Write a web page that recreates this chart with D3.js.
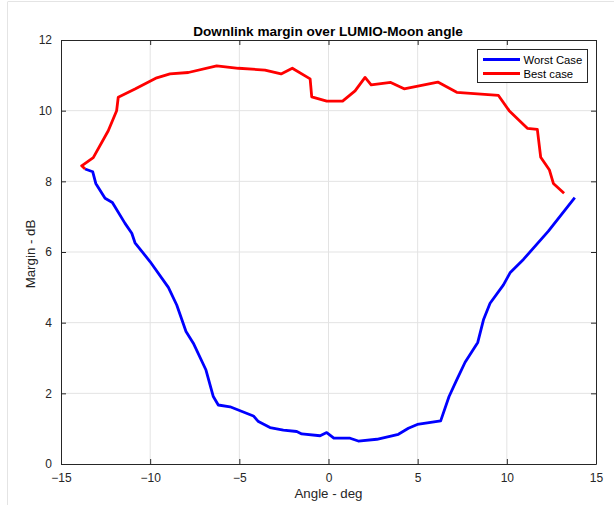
<!DOCTYPE html>
<html>
<head>
<meta charset="utf-8">
<script src="https://cdn.jsdelivr.net/npm/d3@7"></script>
<style>
  html, body { margin: 0; padding: 0; background: #fff; }
  svg { display: block; font-family: "Liberation Sans", Arial, Helvetica, sans-serif; }
</style>
</head>
<body>
<svg id="chart" width="614" height="505"></svg>
<script>
// ---- data ----
const title = "Downlink margin over LUMIO-Moon angle";
const xLabel = "Angle - deg";
const yLabel = "Margin - dB";
const xTicks = [-15, -10, -5, 0, 5, 10, 15];
const yTicks = [0, 2, 4, 6, 8, 10, 12];
const seriesNames = ["Worst Case", "Best case"];

const worstAngle = [-13.65, -13.22, -13.05, -12.53, -12.12, -11.41, -11.03, -10.85, -10.01, -8.98, -8.51, -7.99, -7.58, -6.87, -6.46, -6.18, -5.52, -4.21, -3.93, -3.28, -2.53, -1.78, -1.5, -0.47, -0.1, 0.3, 1.21, 1.67, 2.71, 3.92, 4.48, 4.98, 6.29, 6.76, 7.19, 7.66, 8.37, 8.69, 9.06, 9.81, 10.18, 10.93, 12.33, 13.81];
const worstMargin = [8.35, 8.27, 7.94, 7.52, 7.4, 6.81, 6.53, 6.26, 5.73, 5.0, 4.5, 3.75, 3.42, 2.66, 1.91, 1.67, 1.62, 1.36, 1.2, 1.03, 0.96, 0.92, 0.85, 0.8, 0.89, 0.73, 0.73, 0.65, 0.7, 0.84, 1.01, 1.12, 1.22, 1.91, 2.38, 2.88, 3.44, 4.08, 4.55, 5.07, 5.41, 5.79, 6.59, 7.54];

const bestAngle = [-13.65, -13.84, -13.19, -12.35, -11.88, -11.79, -10.85, -9.63, -8.89, -7.86, -6.27, -5.05, -3.56, -2.66, -2.03, -1.03, -0.94, -0.1, 0.79, 1.49, 2.05, 2.39, 3.49, 4.24, 6.13, 7.19, 9.53, 10.13, 11.15, 11.71, 11.9, 12.39, 12.61, 13.21];
const bestMargin = [8.35, 8.44, 8.67, 9.43, 10.0, 10.38, 10.61, 10.93, 11.04, 11.08, 11.27, 11.2, 11.15, 11.04, 11.2, 10.9, 10.39, 10.27, 10.27, 10.56, 10.94, 10.73, 10.8, 10.62, 10.81, 10.52, 10.43, 10.0, 9.5, 9.47, 8.68, 8.32, 7.94, 7.66];

const colors = ["#0000ff", "#ff0000"];

// ---- layout ----
const svg = d3.select("#chart");
const L = 61, R = 596, T = 40, B = 464;
const axisColor = "#262626";

const x = d3.scaleLinear().domain([-15, 15]).range([L, R]);
const y = d3.scaleLinear().domain([0, 12]).range([B, T]);

// faint window edges
svg.append("line").attr("x1", 7.5).attr("x2", 7.5).attr("y1", 2).attr("y2", 505)
  .attr("stroke", "#e4e4e4").attr("stroke-width", 1);
svg.append("line").attr("x1", 7.5).attr("x2", 614).attr("y1", 1.5).attr("y2", 1.5)
  .attr("stroke", "#e4e4e4").attr("stroke-width", 1);

// grid
const grid = svg.append("g");
grid.selectAll("line.gx").data(xTicks.slice(1, -1)).join("line")
  .attr("x1", d => x(d)).attr("x2", d => x(d)).attr("y1", T).attr("y2", B)
  .attr("stroke", "#e3e3e3").attr("stroke-width", 1);
grid.selectAll("line.gy").data(yTicks.slice(1, -1)).join("line")
  .attr("x1", L).attr("x2", R).attr("y1", d => y(d)).attr("y2", d => y(d))
  .attr("stroke", "#e3e3e3").attr("stroke-width", 1);

// axes
const fmt = d3.format("d");
const xAxis = d3.axisBottom(x).tickValues(xTicks).tickFormat(fmt).tickSizeInner(-5).tickSizeOuter(0).tickPadding(9);
const yAxis = d3.axisLeft(y).tickValues(yTicks).tickFormat(fmt).tickSizeInner(-5).tickSizeOuter(0).tickPadding(9);
const xTop = d3.axisTop(x).tickValues(xTicks).tickFormat("").tickSizeInner(-5).tickSizeOuter(0);
const yRight = d3.axisRight(y).tickValues(yTicks).tickFormat("").tickSizeInner(-5).tickSizeOuter(0);

function styleAxis(g) {
  g.selectAll("path").attr("stroke", axisColor).attr("stroke-width", 1);
  g.selectAll("line").attr("stroke", axisColor).attr("stroke-width", 1);
  g.selectAll("text").attr("fill", "#262626").style("font-size", "12px")
    .style("font-family", "'Liberation Sans', Arial, sans-serif");
}
svg.append("g").attr("transform", `translate(0,${B})`).call(xAxis).call(styleAxis);
svg.append("g").attr("transform", `translate(${L},0)`).call(yAxis).call(styleAxis);
svg.append("g").attr("transform", `translate(0,${T})`).call(xTop).call(styleAxis);
svg.append("g").attr("transform", `translate(${R},0)`).call(yRight).call(styleAxis);

// lines
const line = d3.line().x(d => x(d[0])).y(d => y(d[1]));
const worst = worstAngle.map((a, i) => [a, worstMargin[i]]);
const best = bestAngle.map((a, i) => [a, bestMargin[i]]);
[worst, best].forEach((data, i) => {
  svg.append("path").datum(data).attr("d", line)
    .attr("fill", "none").attr("stroke", colors[i]).attr("stroke-width", 2.8)
    .attr("stroke-linejoin", "round").attr("stroke-linecap", "butt");
});

// title & labels
svg.append("text").attr("x", (L + R) / 2 - 0.5).attr("y", 35.5).attr("text-anchor", "middle")
  .style("font-size", "13.6px").style("font-weight", "bold").attr("fill", "#000").text(title);
svg.append("text").attr("x", (L + R) / 2).attr("y", 498).attr("text-anchor", "middle")
  .style("font-size", "13.3px").attr("fill", "#262626").text(xLabel);
svg.append("text").attr("transform", `translate(35,${(T + B) / 2 + 2}) rotate(-90)`).attr("text-anchor", "middle")
  .style("font-size", "13.3px").attr("fill", "#262626").text(yLabel);

// legend
const lg = svg.append("g");
lg.append("rect").attr("x", 477.5).attr("y", 49.5).attr("width", 110).attr("height", 33)
  .attr("fill", "#fff").attr("stroke", axisColor).attr("stroke-width", 1);
seriesNames.forEach((name, i) => {
  const yy = 59.5 + i * 14;
  lg.append("line").attr("x1", 483).attr("x2", 520).attr("y1", yy).attr("y2", yy)
    .attr("stroke", colors[i]).attr("stroke-width", 2.8);
  lg.append("text").attr("x", 523.5).attr("y", yy + 4).style("font-size", "11.3px")
    .attr("fill", "#000").text(name);
});
</script>
</body>
</html>
